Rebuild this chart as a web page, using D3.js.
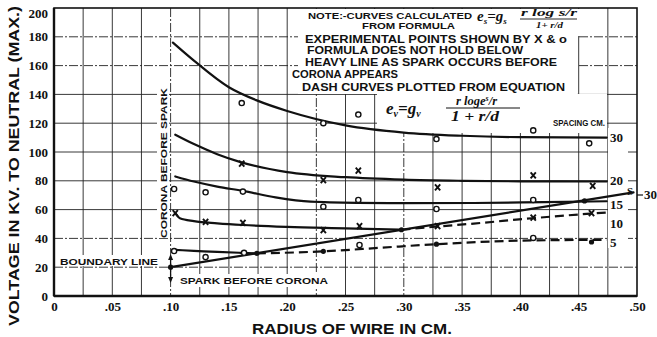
<!DOCTYPE html>
<html>
<head>
<meta charset="utf-8">
<script src="https://cdn.jsdelivr.net/npm/d3@7"></script>
<style>
  html, body { margin: 0; padding: 0; background: #fff; }
  svg { display: block; }
  .sans { font-family: "Liberation Sans", Arial, sans-serif; font-weight: bold; fill: #111; }
  .serif { font-family: "Liberation Serif", "DejaVu Serif", serif; font-weight: bold; fill: #111; }
  .ital { font-family: "Liberation Serif", "DejaVu Serif", serif; font-style: italic; font-weight: bold; fill: #111; }
</style>
</head>
<body>
<svg id="chart" width="657" height="337"></svg>
<script>
// Axis ticks
const xTickValues = [0, 0.05, 0.10, 0.15, 0.20, 0.25, 0.30, 0.35, 0.40, 0.45, 0.50];
const xTickLabels = ["0", ".05", ".10", ".15", ".20", ".25", ".30", ".35", ".40", ".45", ".50"];
const yTickValues = [0, 20, 40, 60, 80, 100, 120, 140, 160, 180, 200];
const yTickLabels = ["0", "20", "40", "60", "80", "100", "120", "140", "160", "180", "200"];

// Calculated curves, [radius cm, kV]
const curve30 = [[0.102,176],[0.12,163.5],[0.15,145],[0.175,135.5],[0.2,128.5],[0.25,118.5],[0.3,113.5],[0.35,111.3],[0.4,110.3],[0.474,110]];
const curve20 = [[0.104,112],[0.12,105.5],[0.14,98.5],[0.16,93],[0.2,86],[0.25,82.5],[0.3,80.8],[0.35,80],[0.4,79.6],[0.474,79.5]];
const curve15 = [[0.104,83],[0.12,79.5],[0.14,76],[0.162,73],[0.19,68.5],[0.22,65.5],[0.26,64.7],[0.3,64.5],[0.36,64.6],[0.42,65.2],[0.474,65.8]];
const curve10 = [[0.104,57.5],[0.108,54],[0.12,52],[0.14,50.5],[0.162,49.3],[0.2,48],[0.25,47],[0.298,46]];
const curve5 = [[0.104,32],[0.12,31.4],[0.14,30.6],[0.16,30],[0.174,29.6]];
// Dash curves from the second equation
const dash10 = [[0.298,46],[0.33,48.3],[0.36,50.3],[0.41,54],[0.46,57.2],[0.474,58]];
const dash5 = [[0.174,29.6],[0.231,31],[0.28,33.5],[0.328,36],[0.41,38.6],[0.474,39]];
// Boundary: spark before corona below, corona before spark above
const boundary = [[0.10,20],[0.497,72]];

// Experimental points
const circles30 = [[0.161,134],[0.231,120],[0.261,126],[0.328,109],[0.411,115],[0.459,106]];
const crosses20 = [[0.161,92],[0.231,80.5],[0.261,87],[0.329,75.5],[0.411,83.8],[0.462,76.5]];
const circles15 = [[0.103,74.3],[0.130,72],[0.162,72.5],[0.231,62],[0.261,66.7],[0.328,60.4],[0.411,66.7]];
const crosses10 = [[0.104,57.6],[0.130,51.4],[0.162,50.7],[0.231,45.8],[0.262,48.5],[0.329,48.5],[0.411,54.5],[0.461,57.6]];
const circles5 = [[0.103,31.2],[0.130,27],[0.163,30],[0.262,35.4],[0.411,40.3]];
const dots = [[0.10,20],[0.174,29.6],[0.231,31],[0.298,46],[0.328,36],[0.455,66],[0.461,37.5]];

// Curve end labels (spacing in cm)
const spacingLabels = [["30",110],["20",80.5],["15",63.5],["10",50.5],["5",37]];

const noteLines = [
  {t:"NOTE:-CURVES CALCULATED", x0:308, x1:472, y:18.5, fs:8.5},
  {t:"FROM FORMULA", x0:362, x1:455, y:28.5, fs:8.5},
  {t:"EXPERIMENTAL POINTS SHOWN BY X & o", x0:305, x1:567, y:43, fs:10.5},
  {t:"FORMULA DOES NOT HOLD BELOW", x0:307, x1:523, y:54, fs:10.5},
  {t:"HEAVY LINE AS SPARK OCCURS BEFORE", x0:305, x1:557, y:66, fs:10.5},
  {t:"CORONA APPEARS", x0:292, x1:398, y:78, fs:10.5},
  {t:"DASH CURVES PLOTTED FROM EQUATION", x0:302, x1:565, y:91, fs:10.5}
];

const svg = d3.select("#chart");
const W = 657, H = 337;
svg.append("rect").attr("width", W).attr("height", H).attr("fill", "#fff");

const x = d3.scaleLinear().domain([0, 0.5]).range([54, 637]);
const y = d3.scaleLinear().domain([0, 200]).range([296, 8]);

// Grid
const grid = svg.append("g").attr("stroke", "#222").attr("fill", "none");
const vGrid = d3.range(1, 20).map(i => i * 0.025);
const hGrid = d3.range(1, 10).map(i => i * 20);
const dashedV = new Set([3, 8, 11]);
grid.selectAll("line.v").data(vGrid).join("line")
  .attr("x1", d => x(d)).attr("x2", d => x(d))
  .attr("y1", y(200)).attr("y2", y(0))
  .attr("stroke-width", 0.9)
  .attr("stroke-dasharray", (d, i) => dashedV.has(i) ? "9,2,2,2" : null);
const dashedH = new Set([20, 40, 160, 180]);
grid.selectAll("line.h").data(hGrid).join("line")
  .attr("x1", x(0)).attr("x2", x(0.5))
  .attr("y1", d => y(d)).attr("y2", d => y(d))
  .attr("stroke-width", 0.9)
  .attr("stroke-dasharray", d => dashedH.has(d) ? "9,2,2,2" : null);

// White panels behind the notes and labels
const masks = [
  [298, 9, 279, 85],     // note block
  [470, 9, 110, 27],     // first formula
  [377, 94, 230, 39],    // second formula and spacing title
  [157, 88, 12, 150],    // vertical annotation
  [58, 255, 102, 11],    // boundary line label
  [178, 274, 152, 13],   // spark before corona label
  [608, 128, 20, 120]    // spacing labels
];
svg.append("g").selectAll("rect").data(masks).join("rect")
  .attr("x", d => d[0]).attr("y", d => d[1]).attr("width", d => d[2]).attr("height", d => d[3])
  .attr("fill", "#fff");

// Frame
svg.append("rect").attr("x", x(0)).attr("y", y(200)).attr("width", x(0.5) - x(0)).attr("height", y(0) - y(200))
  .attr("fill", "none").attr("stroke", "#111").attr("stroke-width", 1.6);
svg.append("line").attr("x1", x(0)).attr("x2", x(0)).attr("y1", y(200)).attr("y2", y(0)).attr("stroke", "#111").attr("stroke-width", 2.4);
svg.append("line").attr("x1", x(0)).attr("x2", x(0.5)).attr("y1", y(0)).attr("y2", y(0)).attr("stroke", "#111").attr("stroke-width", 2.4);

// Axes
const xAxis = d3.axisBottom(x).tickValues(xTickValues).tickSize(0).tickPadding(6)
  .tickFormat((d, i) => xTickLabels[i]);
const gx = svg.append("g").attr("transform", `translate(0,${y(0)})`).call(xAxis);
gx.select(".domain").remove();
gx.selectAll("text").attr("class", "serif").style("font-size", "13px")
  .attr("font-family", null).attr("fill", "#111");

const yAxis = d3.axisLeft(y).tickValues(yTickValues).tickSize(0).tickPadding(6)
  .tickFormat((d, i) => yTickLabels[i]);
const gy = svg.append("g").attr("transform", `translate(${x(0)},0)`).call(yAxis);
gy.select(".domain").remove();
gy.selectAll("text").attr("class", "serif").style("font-size", "13px")
  .attr("font-family", null).attr("fill", "#111");
gy.selectAll(".tick").filter(d => d === 200).select("text").attr("dy", "0.7em");

// Curves
const line = d3.line().x(d => x(d[0])).y(d => y(d[1])).curve(d3.curveMonotoneX);
const curves = svg.append("g").attr("fill", "none").attr("stroke", "#111").attr("stroke-linecap", "round");
[curve30, curve20, curve15, curve10, curve5].forEach(c => {
  curves.append("path").attr("d", line(c)).attr("stroke-width", 2.2);
});
curves.append("path").attr("d", line(boundary)).attr("stroke-width", 2.2);
[dash10, dash5].forEach(c => {
  curves.append("path").attr("d", line(c)).attr("stroke-width", 2.2)
    .attr("stroke-linecap", "butt").attr("stroke-dasharray", "9,5");
});

// Points
const pts = svg.append("g");
pts.selectAll("circle.o").data(circles30.concat(circles15, circles5)).join("circle")
  .attr("cx", d => x(d[0])).attr("cy", d => y(d[1])).attr("r", 2.6)
  .attr("fill", "#fff").attr("stroke", "#111").attr("stroke-width", 1.4);
pts.selectAll("path.x").data(crosses20.concat(crosses10)).join("path")
  .attr("transform", d => `translate(${x(d[0])},${y(d[1])})`)
  .attr("d", "M-2.6,-3L2.6,3M2.6,-3L-2.6,3")
  .attr("stroke", "#111").attr("stroke-width", 1.9);
pts.selectAll("circle.dot").data(dots).join("circle")
  .attr("cx", d => x(d[0])).attr("cy", d => y(d[1])).attr("r", 2.6).attr("fill", "#111");

// Spacing labels at curve ends
svg.append("g").selectAll("text").data(spacingLabels).join("text")
  .attr("class", "serif").style("font-size", "13px")
  .attr("x", 610).attr("y", d => y(d[1])).attr("dy", "0.35em")
  .text(d => d[0]);
svg.append("text").attr("class", "serif").style("font-size", "11px").attr("x", 627).attr("y", 195).text("S");
svg.append("line").attr("x1", 637).attr("x2", 643).attr("y1", 195).attr("y2", 195).attr("stroke", "#111").attr("stroke-width", 1.2);
svg.append("text").attr("class", "serif").style("font-size", "13px").attr("x", 644).attr("y", 199).text("30");

// Spacing title
svg.append("text").attr("class", "sans").style("font-size", "9px")
  .attr("x", 553).attr("y", 125.5).attr("textLength", 52).attr("lengthAdjust", "spacingAndGlyphs")
  .text("SPACING CM.");

// Notes
svg.append("g").selectAll("text").data(noteLines).join("text")
  .attr("class", "sans").style("font-size", d => d.fs + "px")
  .attr("x", d => d.x0).attr("y", d => d.y)
  .attr("textLength", d => d.x1 - d.x0).attr("lengthAdjust", "spacingAndGlyphs")
  .text(d => d.t);

// First formula
const f1 = svg.append("g");
f1.append("text").attr("class", "ital").style("font-size", "15px").attr("x", 477).attr("y", 21)
  .html('e<tspan font-size="9" dy="3">s</tspan><tspan dy="-3">=g</tspan><tspan font-size="9" dy="3">s</tspan>');
f1.append("text").attr("class", "ital").style("font-size", "11px").attr("x", 521).attr("y", 16)
  .attr("textLength", 56).attr("lengthAdjust", "spacingAndGlyphs").text("r log s/r");
f1.append("line").attr("x1", 520).attr("x2", 577).attr("y1", 19).attr("y2", 19).attr("stroke", "#111").attr("stroke-width", 0.9);
f1.append("text").attr("class", "ital").style("font-size", "9px").attr("x", 536).attr("y", 27.5)
  .attr("textLength", 27).attr("lengthAdjust", "spacingAndGlyphs").text("1+ r/d");

// Second formula
const f2 = svg.append("g");
f2.append("text").attr("class", "ital").style("font-size", "17px").attr("x", 386).attr("y", 114)
  .html('e<tspan font-size="10" dy="3">v</tspan><tspan dy="-3">=g</tspan><tspan font-size="10" dy="3">v</tspan>');
f2.append("text").attr("class", "ital").style("font-size", "12.5px").attr("x", 456).attr("y", 105)
  .html('r log<tspan>e</tspan><tspan font-size="8" dy="-4">s</tspan><tspan dy="4">/r</tspan>');
f2.append("line").attr("x1", 446).attr("x2", 520).attr("y1", 108).attr("y2", 108).attr("stroke", "#111").attr("stroke-width", 1);
f2.append("text").attr("class", "ital").style("font-size", "14px").attr("x", 451).attr("y", 121)
  .attr("textLength", 48).attr("lengthAdjust", "spacingAndGlyphs").text("1 + r/d");

// Region annotations
svg.append("text").attr("class", "sans").style("font-size", "9.5px")
  .attr("transform", `translate(${167},${238}) rotate(-90)`)
  .attr("textLength", 150).attr("lengthAdjust", "spacingAndGlyphs")
  .text("CORONA BEFORE SPARK");
svg.append("text").attr("class", "sans").style("font-size", "9.5px")
  .attr("x", 60).attr("y", 265).attr("textLength", 98).attr("lengthAdjust", "spacingAndGlyphs")
  .text("BOUNDARY LINE");
svg.append("text").attr("class", "sans").style("font-size", "9.5px")
  .attr("x", 180).attr("y", 284).attr("textLength", 148).attr("lengthAdjust", "spacingAndGlyphs")
  .text("SPARK BEFORE CORONA");

// Double arrow at the boundary start
const ax = x(0.10);
svg.append("line").attr("x1", ax).attr("x2", ax).attr("y1", 258).attr("y2", 279).attr("stroke", "#111").attr("stroke-width", 1.3);
svg.append("path").attr("d", `M${ax},254L${ax - 2.5},260L${ax + 2.5},260Z`).attr("fill", "#111");
svg.append("path").attr("d", `M${ax},283L${ax - 2.5},277L${ax + 2.5},277Z`).attr("fill", "#111");

// Axis titles
svg.append("text").attr("class", "sans").style("font-size", "15px")
  .attr("transform", `translate(${19},${326}) rotate(-90)`)
  .attr("textLength", 320).attr("lengthAdjust", "spacingAndGlyphs")
  .text("VOLTAGE IN KV. TO NEUTRAL (MAX.)");
svg.append("text").attr("class", "sans").style("font-size", "15px")
  .attr("x", 252).attr("y", 334).attr("textLength", 200).attr("lengthAdjust", "spacingAndGlyphs")
  .text("RADIUS OF WIRE IN CM.");
</script>
</body>
</html>
